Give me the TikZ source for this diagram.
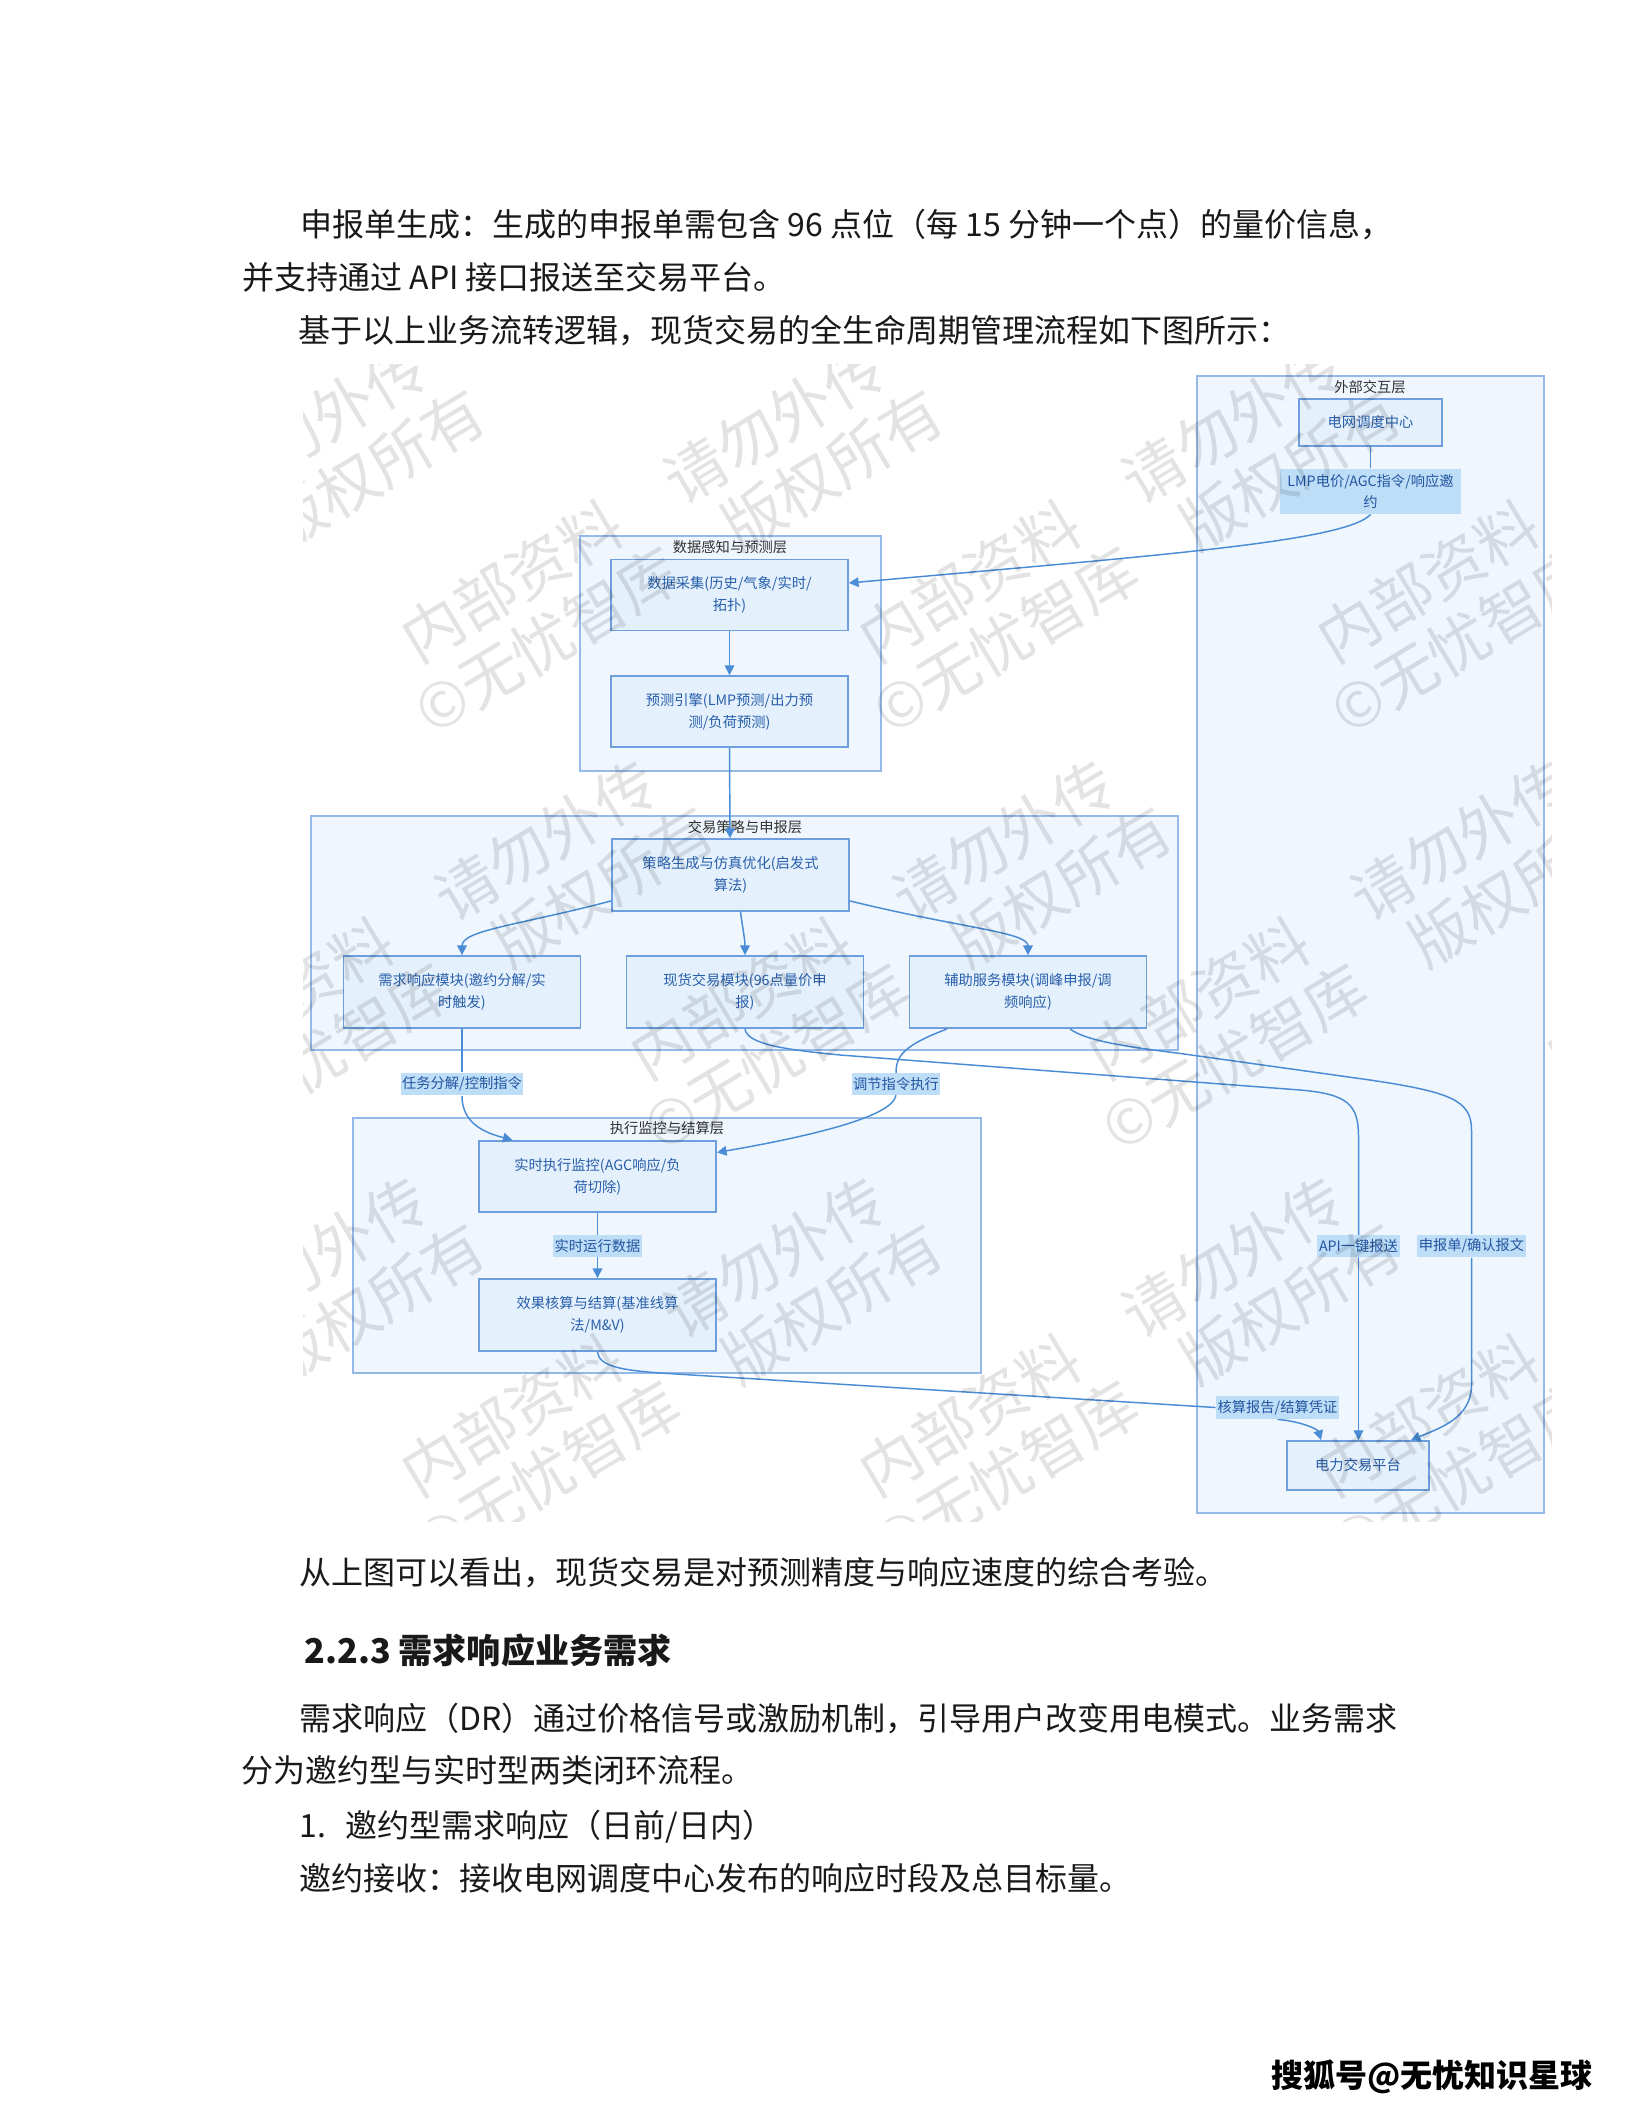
\documentclass[tikz,border=0pt]{standalone}
\usepackage{fontspec}
\setmainfont{Noto Sans CJK SC}
\usetikzlibrary{arrows.meta,calc}
\definecolor{layerfill}{RGB}{239,246,253}
\definecolor{layerdraw}{RGB}{150,186,232}
\definecolor{boxfill}{RGB}{228,240,252}
\definecolor{boxdraw}{RGB}{110,158,220}
\definecolor{boxtext}{RGB}{40,95,170}
\definecolor{lblfill}{RGB}{190,222,248}
\definecolor{lbltext}{RGB}{35,85,160}
\definecolor{edgec}{RGB}{74,140,214}
\definecolor{titlec}{RGB}{50,50,50}
\definecolor{bodyc}{RGB}{25,25,25}
\newcommand\mydfont{\fontsize{5.35}{8.2}\selectfont}
\newcommand\mybfont{\fontsize{12}{19.9}\selectfont}
\tikzset{
  layer/.style={draw=layerdraw, fill=layerfill, line width=0.75pt, inner sep=0pt},
  box/.style={draw=boxdraw, fill=boxfill, line width=0.7pt, text=boxtext, font=\mydfont,
    align=center, inner sep=0pt, minimum width=237*0.375pt, minimum height=71*0.375pt},
  ltitle/.style={text=titlec, font=\mydfont, inner sep=0pt},
  lbl/.style={fill=lblfill, text=lbltext, font=\mydfont, inner xsep=0.6pt, inner ysep=1.5pt, align=center},
  conn/.style={draw=edgec, line width=0.55pt},
  arr/.style={conn, -{Triangle[length=3.6pt,width=3.6pt]}},
  body/.style={font=\mybfont, text=bodyc, inner sep=0pt, anchor=base west},
  wm/.style={font=\fontsize{23}{26}\selectfont, text=black, text opacity=0.11, rotate=31, align=center, inner sep=0pt}
}
\begin{document}
\begin{tikzpicture}[x=0.375pt,y=-0.375pt]
\useasboundingbox (0,0) rectangle (1632,2112);
\fill[white] (0,0) rectangle (1632,2112);

% body text above
\node[body] (t1) at (300,236) {申报单生成：生成的申报单需包含 96 点位（每 15 分钟一个点）的量价信息，};
\node[body] (t2) at (242,289) {并支持通过 API 接口报送至交易平台。};
\node[body] (t3) at (298,342) {基于以上业务流转逻辑，现货交易的全生命周期管理流程如下图所示：};

% layers
\node[layer, minimum width=347*0.375pt, minimum height=1137*0.375pt] (extL) at (1370.5,944.5) {};
\node[layer, minimum width=301*0.375pt, minimum height=235*0.375pt] (dataL) at (730.5,653.5) {};
\node[layer, minimum width=867*0.375pt, minimum height=234*0.375pt] (stratL) at (744.5,933) {};
\node[layer, minimum width=628*0.375pt, minimum height=255*0.375pt] (execL) at (667,1245.5) {};

\node[ltitle] (extT) at (1370,387) {外部交互层};
\node[ltitle] (dataT) at (730,547) {数据感知与预测层};
\node[ltitle] (stratT) at (745,827) {交易策略与申报层};
\node[ltitle] (execT) at (667,1128) {执行监控与结算层};

% nodes
\node[box, minimum width=143*0.375pt, minimum height=47*0.375pt] (disp) at (1370.5,422.5) {电网调度中心};
\node[box] (collect) at (729.5,595) {数据采集(历史/气象/实时/\\拓扑)};
\node[box] (forecast) at (729.5,711.5) {预测引擎(LMP预测/出力预\\测/负荷预测)};
\node[box, minimum height=72*0.375pt] (strategy) at (730.5,875) {策略生成与仿真优化(启发式\\算法)};
\node[box, minimum height=72*0.375pt] (dr) at (462,992) {需求响应模块(邀约分解/实\\时触发)};
\node[box, minimum height=72*0.375pt] (spot) at (745,992) {现货交易模块(96点量价申\\报)};
\node[box, minimum height=72*0.375pt] (aux) at (1028,992) {辅助服务模块(调峰申报/调\\频响应)};
\node[box] (monitor) at (597.5,1176.5) {实时执行监控(AGC响应/负\\荷切除)};
\node[box, minimum height=72*0.375pt] (settle) at (597.5,1315) {效果核算与结算(基准线算\\法/M\&V)};
\node[box, minimum width=142*0.375pt, minimum height=49*0.375pt] (platform) at (1358,1465.5) {电力交易平台};

% edge labels
\node[lbl, minimum width=181*0.375pt, minimum height=45*0.375pt] (lmp) at (1370.5,491.5) {LMP电价/AGC指令/响应邀\\约};
\node[lbl] (ltask) at (462,1084) {任务分解/控制指令};
\node[lbl] (ladj) at (896,1084) {调节指令执行};
\node[lbl] (lrt) at (597.5,1246) {实时运行数据};
\node[lbl] (lapi) at (1358.5,1246) {API一键报送};
\node[lbl] (lsub) at (1471.5,1246) {申报单/确认报文};
\node[lbl] (lset) at (1277.5,1407.5) {核算报告/结算凭证};

% connectors
\draw[conn] (disp.south) -- (lmp.north);
\draw[arr] (lmp.south) .. controls (1345,542) and (1150,556) .. ($(collect.east)+(0,-12)$);
\draw[arr] (collect.south) -- (forecast.north);
\draw[arr] (forecast.south) -- ($(strategy.north)+(-0.5,0)$);
\draw[arr] ($(strategy.south west)+(0,-11)$) .. controls (520,925) and (462,930) .. (dr.north);
\draw[arr] ($(strategy.south)+(10,0)$) .. controls (743,930) and (745,940) .. (spot.north);
\draw[arr] ($(strategy.south east)+(0,-11)$) .. controls (960,928) and (1028,932) .. (aux.north);
\draw[conn] (dr.south) -- (ltask.north);
\draw[arr] (ltask.south) .. controls (462,1122) and (482,1132) .. ($(monitor.north)+(-85,0)$);
\draw[conn] ($(aux.south)+(-81,0)$) .. controls (905,1045) and (896,1055) .. (ladj.north);
\draw[arr] (ladj.south) .. controls (893,1118) and (800,1138) .. ($(monitor.east)+(0,-24)$);
\draw[conn] (monitor.south) -- (lrt.north);
\draw[arr] (lrt.south) -- (settle.north);
\draw[conn] (spot.south) .. controls (747,1045) and (790,1050) .. (840,1055) -- (1300,1090)
   .. controls (1348,1094) and (1358,1105) .. (1358.5,1135) -- (lapi.north);
\draw[arr] (lapi.south) -- (lapi.south |- platform.north);
\draw[conn] ($(aux.south)+(42,0)$) .. controls (1085,1040) and (1120,1046) .. (1177,1053) -- (1370,1080)
   .. controls (1450,1092) and (1471.5,1100) .. (1471.5,1130) -- (lsub.north);
\draw[arr] (lsub.south) -- (1471.5,1385) .. controls (1471.5,1418) and (1440,1428) .. ($(platform.north east)+(-19,0)$);
\draw[conn] (settle.south) .. controls (599,1366) and (620,1370) .. (660,1373) -- (lset.west);
\draw[arr] (lset.south) .. controls (1305,1422) and (1318,1430) .. ($(platform.north)+(-37,0)$);
% redraw labels over lines
\node[lbl, minimum width=181*0.375pt, minimum height=45*0.375pt] (lmpB) at (1370.5,491.5) {LMP电价/AGC指令/响应邀\\约};
\node[lbl] (lsetB) at (1277.5,1407.5) {核算报告/结算凭证};

% watermarks
\begin{scope}
\clip (303,364) rectangle (1551,1521);
\foreach \cx/\cy [count=\i] in {203/532, 661/532, 1119/532, 1577/532,
   -26/949, 432/949, 890/949, 1348/949, 1806/949,
   203/1366, 661/1366, 1119/1366, 1577/1366}{
  \node[wm] (wm\i) at (\cx,\cy) {内部资料　请勿外传\\©无忧智库　版权所有};
}
\end{scope}

% body text below
\node[body] (t4) at (299,1584) {从上图可以看出，现货交易是对预测精度与响应速度的综合考验。};
\node[body, font=\fontsize{12.8}{16}\selectfont\bfseries] (h1) at (304,1663) {2.2.3 需求响应业务需求};
\node[body] (t6) at (299,1730) {需求响应（DR）通过价格信号或激励机制，引导用户改变用电模式。业务需求};
\node[body] (t7) at (241,1782) {分为邀约型与实时型两类闭环流程。};
\node[body] (t8a) at (299,1837) {1.};
\node[body] (t8b) at (345,1837) {邀约型需求响应（日前/日内）};
\node[body] (t9) at (299,1890) {邀约接收：接收电网调度中心发布的响应时段及总目标量。};

% footer
\node[font=\fontsize{12}{14}\selectfont\bfseries, inner sep=0pt] (ft) at (1432,2077) {搜狐号@无忧知识星球};
\end{tikzpicture}
\end{document}
